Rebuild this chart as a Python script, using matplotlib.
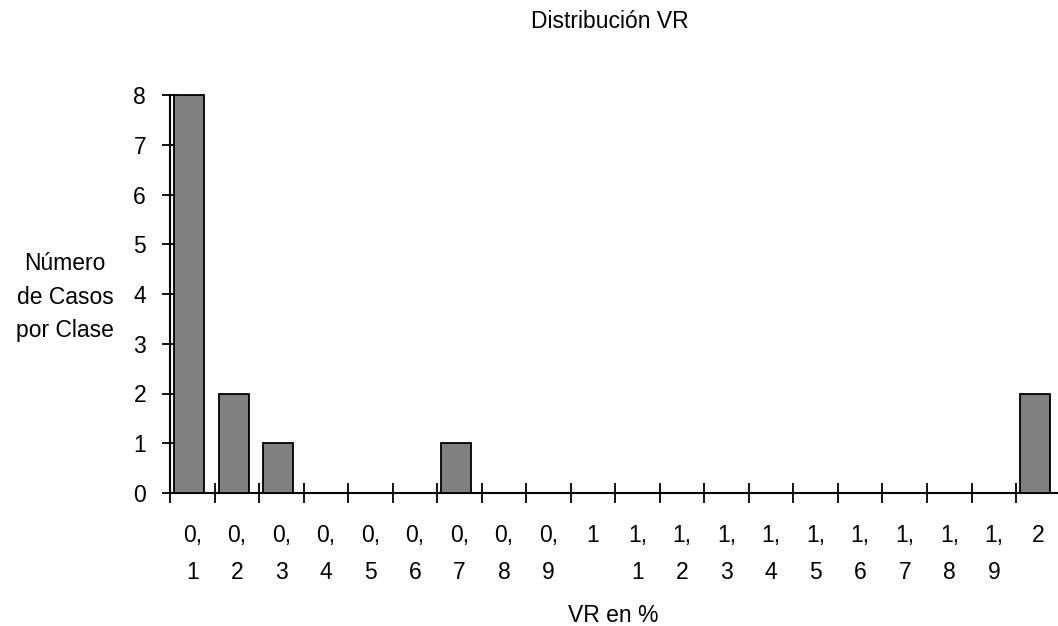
import matplotlib
matplotlib.use("Agg")
import matplotlib.pyplot as plt

plt.rcParams['font.family'] = ['Liberation Sans', 'DejaVu Sans']

# Class labels (two lines: integer part with comma, decimal digit)
class_labels = ["0,\n1", "0,\n2", "0,\n3", "0,\n4", "0,\n5", "0,\n6", "0,\n7",
                "0,\n8", "0,\n9", "1\n ", "1,\n1", "1,\n2", "1,\n3", "1,\n4",
                "1,\n5", "1,\n6", "1,\n7", "1,\n8", "1,\n9", "2\n "]
case_counts = [8, 2, 1, 0, 0, 0, 1, 0, 0, 0, 0, 0, 0, 0, 0, 0, 0, 0, 0, 2]
y_ticks = [0, 1, 2, 3, 4, 5, 6, 7, 8]
ylabel_lines = ["Número", "de Casos", "por Clase"]

FS = 16.5
W, H = 1058, 626
fig = plt.figure(figsize=(W / 100, H / 100), dpi=100)

left_px, right_px = 170, 1060.6
top_px, bottom_px = 95, 493
ax = fig.add_axes([left_px / W, 1 - bottom_px / H,
                   (right_px - left_px) / W, (bottom_px - top_px) / H])

n = len(case_counts)
centers = [i + 0.5 for i in range(n)]
ax.bar([c - 0.07 for c in centers], case_counts, width=0.68,
       color="#808080", edgecolor="black", linewidth=1.3, zorder=3,
       clip_on=False)

ax.set_xlim(0, n)
ax.set_ylim(0, 8)

for side in ("top", "right"):
    ax.spines[side].set_visible(False)
for side in ("left", "bottom"):
    ax.spines[side].set_linewidth(1.5)

ax.set_xticks(range(n))
ax.set_xticklabels([])
ax.set_xticks(centers, minor=True)
ax.set_xticklabels(class_labels, minor=True, fontsize=FS, linespacing=1.78)
ax.tick_params(axis="x", which="major", direction="inout", length=14, width=1.3)
ax.tick_params(axis="x", which="minor", length=0, pad=22)

ax.set_yticks(y_ticks)
ax.set_yticklabels([str(v) for v in y_ticks], fontsize=FS)
ax.tick_params(axis="y", direction="inout", length=11.5, width=1.3, pad=11.5)

fig.text(610 / W, 1 - 28 / H, "Distribución VR", ha="center", va="baseline",
         fontsize=FS)
fig.text(613 / W, 1 - 622 / H, "VR en %", ha="center", va="baseline",
         fontsize=FS)
for line, base in zip(ylabel_lines, [270, 303.5, 337]):
    fig.text(65 / W, 1 - base / H, line, ha="center", va="baseline",
             fontsize=FS)

fig.savefig("out.png", dpi=100)
